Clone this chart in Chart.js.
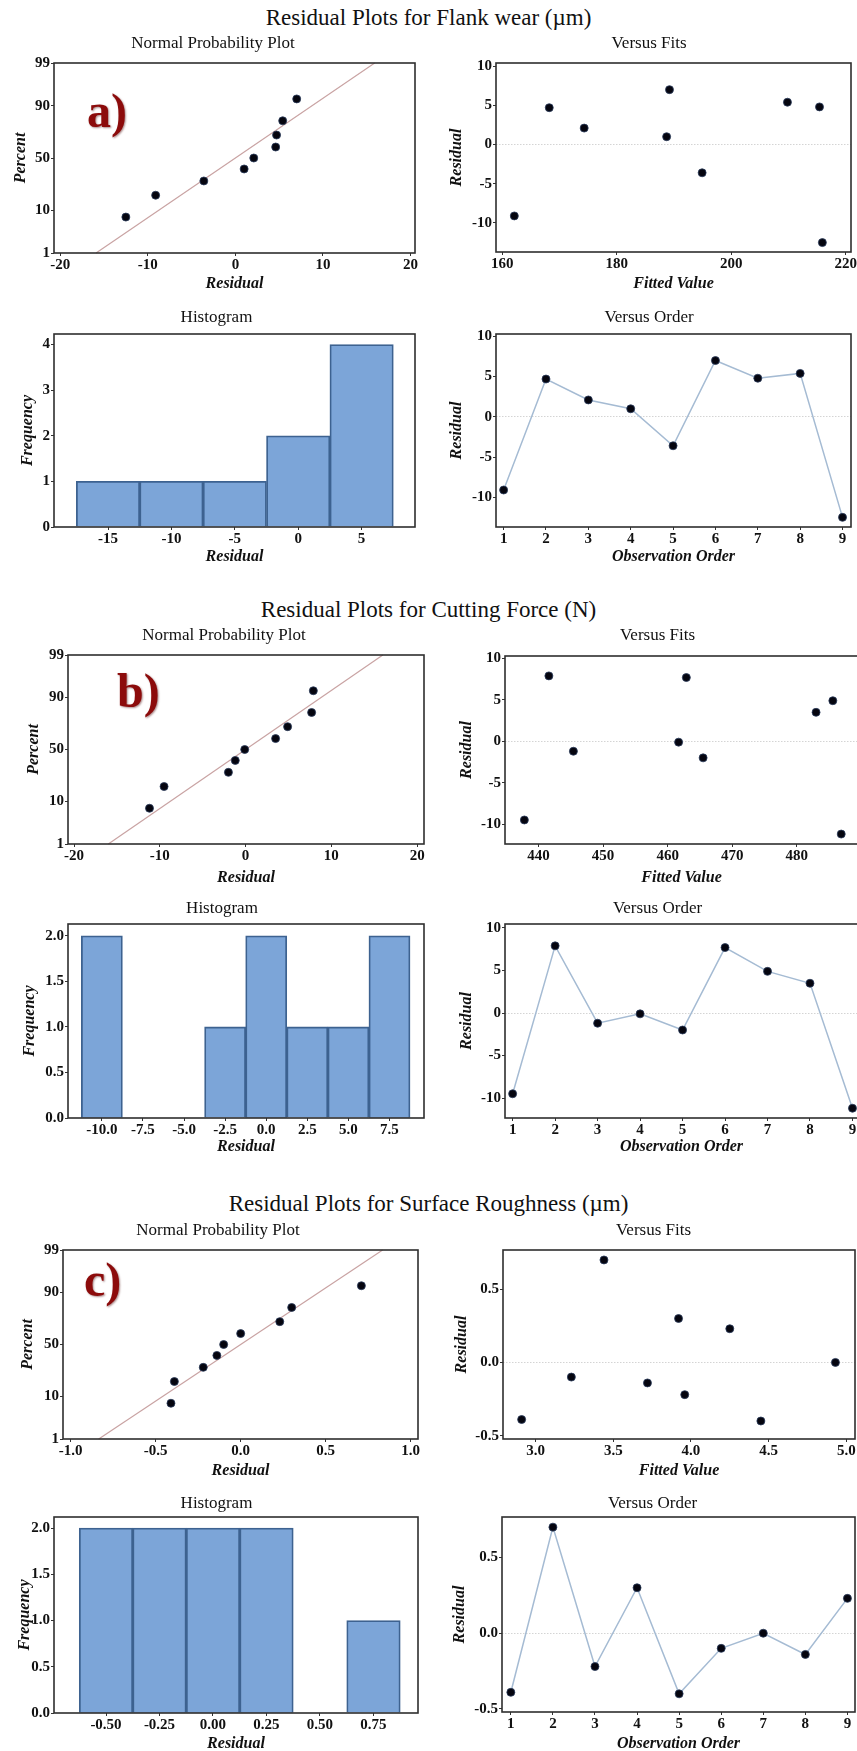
<!DOCTYPE html>
<html>
<head>
<meta charset="utf-8">
<script src="https://cdn.jsdelivr.net/npm/chart.js@4.4.1/dist/chart.umd.min.js"></script>
<style>
  html, body { margin: 0; padding: 0; background: #fff; }
  body { width: 857px; height: 1751px; position: relative; overflow: hidden; font-family: "Liberation Serif", "Times New Roman", serif; }
  canvas { position: absolute; }
  .main-title { position: absolute; left: 0; width: 857px; text-align: center; font-size: 23px; line-height: 28px; color: #111; }
  .tag { position: absolute; font-size: 48px; line-height: 48px; font-weight: bold; color: #8c0b0b; text-shadow: 1px 1px 2px rgba(70, 0, 0, 0.45); }
</style>
</head>
<body>
<div class="main-title" style="top:4px">Residual Plots for Flank wear (µm)</div>
<div class="main-title" style="top:596px">Residual Plots for Cutting Force (N)</div>
<div class="main-title" style="top:1190px">Residual Plots for Surface Roughness (µm)</div>

<script>
/*jshint esversion: 6 */

// ---- data ----
var ORDER = [1, 2, 3, 4, 5, 6, 7, 8, 9];
var ORDER_TICKS = ['1', '2', '3', '4', '5', '6', '7', '8', '9'];
var NPP_PCT = [7.4, 18.1, 28.7, 39.4, 50, 60.6, 71.3, 81.9, 92.6];
var PCT_TICKS = ['1', '10', '50', '90', '99'];
var LINE_PCT = [1, 99];

// a) flank wear
var A_RESID = [-9.1, 4.7, 2.1, 1.0, -3.6, 7.0, 4.8, 5.4, -12.5];
var A_FITS = [162.1, 168.2, 174.3, 188.7, 194.9, 189.2, 215.4, 209.8, 215.9];
var A_NPP_RESID = [-12.5, -9.1, -3.6, 1.0, 2.1, 4.6, 4.7, 5.4, 7.0];
var A_NPP_LINE = [-15.9, 15.9];
var A_HIST_BINS = [-15, -10, -5, 0, 5];
var A_HIST_FREQ = [1, 1, 1, 2, 4];
var A_NPP_X_TICKS = ['-20', '-10', '0', '10', '20'];
var A_FITS_TICKS = ['160', '180', '200', '220'];
var A_RESID_TICKS = ['-10', '-5', '0', '5', '10'];
var A_HIST_X_TICKS = ['-15', '-10', '-5', '0', '5'];
var A_HIST_Y_TICKS = ['0', '1', '2', '3', '4'];

// b) cutting force
var B_RESID = [-9.5, 7.9, -1.2, -0.1, -2.0, 7.7, 4.9, 3.5, -11.2];
var B_FITS = [437.8, 441.6, 445.4, 461.7, 465.5, 462.9, 485.6, 483.0, 486.9];
var B_NPP_RESID = [-11.2, -9.5, -2.0, -1.2, -0.1, 3.5, 4.9, 7.7, 7.9];
var B_NPP_LINE = [-16.0, 16.0];
var B_HIST_BINS = [-10, -7.5, -5, -2.5, 0, 2.5, 5, 7.5];
var B_HIST_FREQ = [2, 0, 0, 1, 2, 1, 1, 2];
var B_NPP_X_TICKS = ['-20', '-10', '0', '10', '20'];
var B_FITS_TICKS = ['440', '450', '460', '470', '480'];
var B_RESID_TICKS = ['-10', '-5', '0', '5', '10'];
var B_HIST_X_TICKS = ['-10.0', '-7.5', '-5.0', '-2.5', '0.0', '2.5', '5.0', '7.5'];
var B_HIST_Y_TICKS = ['0.0', '0.5', '1.0', '1.5', '2.0'];

// c) surface roughness
var C_RESID = [-0.39, 0.70, -0.22, 0.30, -0.40, -0.10, 0.00, -0.14, 0.23];
var C_FITS = [2.91, 3.44, 3.96, 3.92, 4.45, 3.23, 4.93, 3.72, 4.25];
var C_NPP_RESID = [-0.41, -0.39, -0.22, -0.14, -0.10, 0.00, 0.23, 0.30, 0.71];
var C_NPP_LINE = [-0.835, 0.835];
var C_HIST_BINS = [-0.5, -0.25, 0, 0.25, 0.5, 0.75];
var C_HIST_FREQ = [2, 2, 2, 2, 0, 1];
var C_NPP_X_TICKS = ['-1.0', '-0.5', '0.0', '0.5', '1.0'];
var C_FITS_TICKS = ['3.0', '3.5', '4.0', '4.5', '5.0'];
var C_RESID_TICKS = ['-0.5', '0.0', '0.5'];
var C_HIST_X_TICKS = ['-0.50', '-0.25', '0.00', '0.25', '0.50', '0.75'];
var C_HIST_Y_TICKS = ['0.0', '0.5', '1.0', '1.5', '2.0'];

// ---- look ----
var TITLE_SIZE = 17, AXIS_SIZE = 16, TICK_SIZE = 15;
var TITLE_LH = TITLE_SIZE * 1.2, AXIS_LH = AXIS_SIZE * 1.2;
var PAD_RIGHT = 16;
var INK = '#111';
var DOT = '#05050f', DOT_EDGE = '#2a3b5c';
var NPP_LINE_COLOR = '#c9a3a3';
var ORDER_LINE_COLOR = '#a5bbd3';
var BAR_FILL = '#7ca5d8', BAR_EDGE = '#3d6290';

Chart.defaults.font.family = '"Liberation Serif", "Times New Roman", serif';

// inverse of the normal cdf (Acklam), used by the probability axis
function probit(p) {
  var a = [-3.969683028665376e+01, 2.209460984245205e+02, -2.759285104469687e+02, 1.383577518672690e+02, -3.066479806614716e+01, 2.506628277459239e+00];
  var b = [-5.447609879822406e+01, 1.615858368580409e+02, -1.556989798598866e+02, 6.680131188771972e+01, -1.328068155288572e+01];
  var c = [-7.784894002430293e-03, -3.223964580411365e-01, -2.400758277161838e+00, -2.549732539343734e+00, 4.374664141464968e+00, 2.938163982698783e+00];
  var d = [7.784695709041462e-03, 3.224671290700398e-01, 2.445134137142996e+00, 3.754408661907416e+00];
  var q, r;
  if (p < 0.02425) {
    q = Math.sqrt(-2 * Math.log(p));
    return (((((c[0] * q + c[1]) * q + c[2]) * q + c[3]) * q + c[4]) * q + c[5]) / ((((d[0] * q + d[1]) * q + d[2]) * q + d[3]) * q + 1);
  }
  if (p > 1 - 0.02425) {
    q = Math.sqrt(-2 * Math.log(1 - p));
    return -(((((c[0] * q + c[1]) * q + c[2]) * q + c[3]) * q + c[4]) * q + c[5]) / ((((d[0] * q + d[1]) * q + d[2]) * q + d[3]) * q + 1);
  }
  q = p - 0.5;
  r = q * q;
  return (((((a[0] * r + a[1]) * r + a[2]) * r + a[3]) * r + a[4]) * r + a[5]) * q / (((((b[0] * r + b[1]) * r + b[2]) * r + b[3]) * r + b[4]) * r + 1);
}

function normalCdf(z) {
  var t = 1 / (1 + 0.3275911 * Math.abs(z) / Math.SQRT2);
  var y = 1 - (((((1.061405429 * t - 1.453152027) * t) + 1.421413741) * t - 0.284496736) * t + 0.254829592) * t * Math.exp(-z * z / 2);
  return z >= 0 ? (1 + y) / 2 : (1 - y) / 2;
}

class ProbabilityScale extends Chart.Scale {
  determineDataLimits() {
    this.min = this.options.min;
    this.max = this.options.max;
  }
  buildTicks() {
    return [];
  }
  getLabelForValue(value) {
    return String(value);
  }
  configure() {
    super.configure();
    this._zStart = probit(this.min / 100);
    this._zRange = probit(this.max / 100) - this._zStart;
  }
  getPixelForValue(value) {
    return this.getPixelForDecimal((probit(value / 100) - this._zStart) / this._zRange);
  }
  getValueForPixel(pixel) {
    return 100 * normalCdf(this._zStart + this.getDecimalForPixel(pixel) * this._zRange);
  }
}
ProbabilityScale.id = 'probability';
ProbabilityScale.defaults = {};
Chart.register(ProbabilityScale);

var framePlugin = {
  id: 'frame',
  afterDraw: function(chart) {
    var a = chart.chartArea;
    var ctx = chart.ctx;
    ctx.save();
    ctx.strokeStyle = '#2e2e2e';
    ctx.lineWidth = 1.6;
    ctx.strokeRect(a.left, a.top, a.right - a.left, a.bottom - a.top);
    ctx.restore();
  }
};

// canvas placed so that the plot area lands on box
function makeCanvas(box) {
  var left = Math.round(box.yTitleX - AXIS_LH / 2);
  var top = Math.round(box.titleY - TITLE_LH / 2);
  var right = Math.round(box.R + PAD_RIGHT);
  var bottom = Math.round(box.xTitleY + AXIS_LH / 2);
  var c = document.createElement('canvas');
  c.width = right - left;
  c.height = bottom - top;
  c.style.left = left + 'px';
  c.style.top = top + 'px';
  document.body.appendChild(c);
  return {
    ctx: c.getContext('2d'),
    yWidth: box.L - left,
    xHeight: bottom - box.B,
    titlePad: box.T - top - TITLE_LH
  };
}

function axis(g, horizontal, o) {
  var labels = o.ticks;
  return {
    type: o.type || 'linear',
    min: o.min,
    max: o.max,
    offset: false,
    afterBuildTicks: function(s) {
      s.ticks = labels.map(function(t) { return { value: parseFloat(t) }; });
    },
    afterFit: function(s) {
      if (horizontal) {
        s.height = g.xHeight;
      } else {
        s.width = g.yWidth;
      }
    },
    ticks: {
      callback: function(v, i) { return labels[i]; },
      font: { size: TICK_SIZE, weight: 'bold' },
      color: INK,
      padding: horizontal ? 0 : 1,
      maxRotation: 0,
      autoSkip: false
    },
    grid: {
      display: true,
      drawOnChartArea: !!o.zeroLine,
      offset: false,
      tickLength: 3,
      tickColor: '#333',
      color: o.zeroLine ? function(c) { return c.tick && c.tick.value === 0 ? '#d4d4d4' : 'rgba(0,0,0,0)'; } : '#333'
    },
    border: { display: false, dash: o.zeroLine ? [1.5, 1.5] : [] },
    title: {
      display: true,
      text: o.title,
      color: INK,
      font: { size: AXIS_SIZE, weight: 'bold', style: 'italic' },
      padding: 0
    }
  };
}

function baseOptions(title, g, xAxis, yAxis) {
  return {
    responsive: false,
    animation: false,
    devicePixelRatio: 1,
    layout: { padding: { left: 0, right: PAD_RIGHT, top: 0, bottom: 0 } },
    plugins: {
      legend: { display: false },
      tooltip: { enabled: false },
      title: {
        display: true,
        text: title,
        color: INK,
        font: { size: TITLE_SIZE, weight: 'normal' },
        padding: { top: 0, bottom: g.titlePad }
      }
    },
    scales: { x: xAxis, y: yAxis }
  };
}

function pointStyle() {
  return { pointRadius: 4, pointBackgroundColor: DOT, pointBorderColor: DOT_EDGE, pointBorderWidth: 0.8, clip: false };
}

function createNormalPlot(box, resid, line, xr, xTicks) {
  var g = makeCanvas(box);
  var pts = resid.map(function(r, i) { return { x: r, y: NPP_PCT[i] }; });
  var fit = line.map(function(r, i) { return { x: r, y: LINE_PCT[i] }; });
  new Chart(g.ctx, {
    type: 'scatter',
    data: {
      datasets: [
        Object.assign({ data: pts, showLine: false }, pointStyle()),
        { data: fit, showLine: true, borderColor: NPP_LINE_COLOR, borderWidth: 1.2, pointRadius: 0, clip: false }
      ]
    },
    options: baseOptions('Normal Probability Plot', g,
      axis(g, true, { min: xr[0], max: xr[1], ticks: xTicks, title: 'Residual' }),
      axis(g, false, { type: 'probability', min: 1, max: 99, ticks: PCT_TICKS, title: 'Percent' })),
    plugins: [framePlugin]
  });
}

function createFitsPlot(box, fits, resid, xr, yr, xTicks, yTicks) {
  var g = makeCanvas(box);
  var pts = fits.map(function(f, i) { return { x: f, y: resid[i] }; });
  new Chart(g.ctx, {
    type: 'scatter',
    data: { datasets: [Object.assign({ data: pts, showLine: false }, pointStyle())] },
    options: baseOptions('Versus Fits', g,
      axis(g, true, { min: xr[0], max: xr[1], ticks: xTicks, title: 'Fitted Value' }),
      axis(g, false, { min: yr[0], max: yr[1], ticks: yTicks, title: 'Residual', zeroLine: true })),
    plugins: [framePlugin]
  });
}

function createOrderPlot(box, resid, xr, yr, yTicks) {
  var g = makeCanvas(box);
  var pts = ORDER.map(function(o, i) { return { x: o, y: resid[i] }; });
  new Chart(g.ctx, {
    type: 'scatter',
    data: {
      datasets: [Object.assign({ data: pts, showLine: true, borderColor: ORDER_LINE_COLOR, borderWidth: 1.5 }, pointStyle())]
    },
    options: baseOptions('Versus Order', g,
      axis(g, true, { min: xr[0], max: xr[1], ticks: ORDER_TICKS, title: 'Observation Order' }),
      axis(g, false, { min: yr[0], max: yr[1], ticks: yTicks, title: 'Residual', zeroLine: true })),
    plugins: [framePlugin]
  });
}

function createHistogram(box, bins, freq, xr, yMax, xTicks, yTicks) {
  var g = makeCanvas(box);
  var bars = bins.map(function(b, i) { return { x: b, y: freq[i] }; });
  new Chart(g.ctx, {
    type: 'bar',
    data: {
      datasets: [{
        data: bars,
        backgroundColor: BAR_FILL,
        borderColor: BAR_EDGE,
        borderWidth: 1.8,
        borderSkipped: 'bottom',
        barPercentage: 1,
        categoryPercentage: 1
      }]
    },
    options: baseOptions('Histogram', g,
      axis(g, true, { min: xr[0], max: xr[1], ticks: xTicks, title: 'Residual' }),
      axis(g, false, { min: 0, max: yMax, ticks: yTicks, title: 'Frequency' })),
    plugins: [framePlugin]
  });
}

// a)
createNormalPlot({ L: 54, T: 63, R: 415, B: 253, titleY: 43, yTitleX: 20.7, xTitleY: 283 },
  A_NPP_RESID, A_NPP_LINE, [-20.7, 20.5], A_NPP_X_TICKS);
createFitsPlot({ L: 496, T: 63, R: 851, B: 252, titleY: 43, yTitleX: 456.3, xTitleY: 283 },
  A_FITS, A_RESID, [158.9, 220.9], [-13.7, 10.4], A_FITS_TICKS, A_RESID_TICKS);
createHistogram({ L: 54, T: 334, R: 415, B: 527, titleY: 316.7, yTitleX: 27.3, xTitleY: 556.7 },
  A_HIST_BINS, A_HIST_FREQ, [-19.26, 9.21], 4.23, A_HIST_X_TICKS, A_HIST_Y_TICKS);
createOrderPlot({ L: 496, T: 334, R: 851, B: 527, titleY: 316.7, yTitleX: 456.3, xTitleY: 556.7 },
  A_RESID, [0.82, 9.2], [-13.7, 10.3], A_RESID_TICKS);

// b)
createNormalPlot({ L: 68, T: 655, R: 424, B: 844, titleY: 635, yTitleX: 33.3, xTitleY: 877 },
  B_NPP_RESID, B_NPP_LINE, [-20.7, 20.8], B_NPP_X_TICKS);
createFitsPlot({ L: 505, T: 656, R: 858, B: 844, titleY: 635, yTitleX: 466.3, xTitleY: 877 },
  B_FITS, B_RESID, [434.8, 489.5], [-12.4, 10.3], B_FITS_TICKS, B_RESID_TICKS);
createHistogram({ L: 68, T: 924, R: 424, B: 1118, titleY: 908, yTitleX: 30, xTitleY: 1146.7 },
  B_HIST_BINS, B_HIST_FREQ, [-12.06, 9.6], 2.13, B_HIST_X_TICKS, B_HIST_Y_TICKS);
createOrderPlot({ L: 505, T: 924, R: 858, B: 1118, titleY: 908, yTitleX: 466.3, xTitleY: 1146.7 },
  B_RESID, [0.82, 9.13], [-12.35, 10.47], B_RESID_TICKS);

// c)
createNormalPlot({ L: 63, T: 1250, R: 418, B: 1439, titleY: 1230, yTitleX: 27.3, xTitleY: 1470 },
  C_NPP_RESID, C_NPP_LINE, [-1.045, 1.043], C_NPP_X_TICKS);
createFitsPlot({ L: 503, T: 1250, R: 855, B: 1439, titleY: 1230, yTitleX: 461.3, xTitleY: 1470 },
  C_FITS, C_RESID, [2.79, 5.056], [-0.523, 0.768], C_FITS_TICKS, C_RESID_TICKS);
createHistogram({ L: 54, T: 1517, R: 418, B: 1713, titleY: 1503, yTitleX: 25, xTitleY: 1743 },
  C_HIST_BINS, C_HIST_FREQ, [-0.743, 0.958], 2.12, C_HIST_X_TICKS, C_HIST_Y_TICKS);
createOrderPlot({ L: 502, T: 1517, R: 855, B: 1712, titleY: 1503, yTitleX: 459.7, xTitleY: 1743 },
  C_RESID, [0.79, 9.18], [-0.52, 0.767], C_RESID_TICKS);
</script>

<div class="tag" style="left:87px; top:87px">a)</div>
<div class="tag" style="left:117px; top:667px">b)</div>
<div class="tag" style="left:84px; top:1256px">c)</div>
</body>
</html>
